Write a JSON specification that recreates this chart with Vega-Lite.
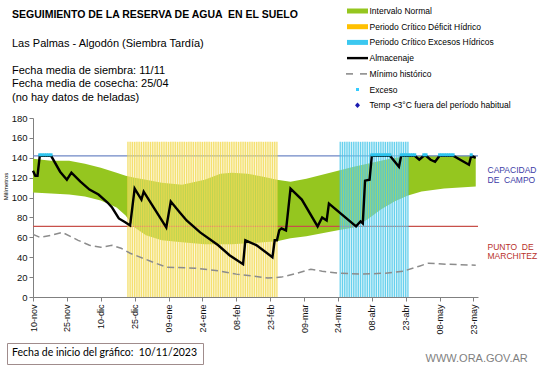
{
  "$schema": "https://vega.github.io/schema/vega-lite/v6.json",
  "width": 445,
  "height": 179,
  "autosize": {"type": "none"},
  "padding": {"left": 33, "top": 118, "right": 63, "bottom": 71},
  "background": "white",
  "title": {
    "text": "SEGUIMIENTO DE LA RESERVA DE AGUA \u00a0EN EL SUELO",
    "subtitle": ["Las Palmas - Algodón (Siembra Tardía)", "\u200b", "Fecha media de siembra: 11/11", "Fecha media de cosecha: 25/04", "(no hay datos de heladas)"],
    "anchor": "start",
    "frame": "group",
    "dx": -21,
    "dy": 104.5,
    "offset": 8,
    "font": "Liberation Sans",
    "fontSize": 10.5,
    "fontWeight": "bold",
    "color": "#000000",
    "subtitleFont": "Liberation Sans",
    "subtitleFontSize": 11,
    "subtitleColor": "#000000",
    "subtitleLineHeight": 13.5,
    "subtitlePadding": 17.5
  },
  "datasets": {
    "normal": [
      {"fecha": "2023-11-10", "sup": 139, "inf": 105},
      {"fecha": "2023-11-18", "sup": 137, "inf": 104},
      {"fecha": "2023-11-26", "sup": 137, "inf": 103},
      {"fecha": "2023-12-03", "sup": 134, "inf": 101},
      {"fecha": "2023-12-10", "sup": 130, "inf": 97},
      {"fecha": "2023-12-17", "sup": 125, "inf": 90},
      {"fecha": "2023-12-21", "sup": 122, "inf": 82},
      {"fecha": "2023-12-25", "sup": 120, "inf": 70},
      {"fecha": "2023-12-30", "sup": 118, "inf": 62},
      {"fecha": "2024-01-06", "sup": 115, "inf": 57},
      {"fecha": "2024-01-15", "sup": 113, "inf": 55},
      {"fecha": "2024-01-25", "sup": 118, "inf": 53},
      {"fecha": "2024-02-01", "sup": 124, "inf": 53},
      {"fecha": "2024-02-06", "sup": 125, "inf": 53},
      {"fecha": "2024-02-13", "sup": 124, "inf": 54},
      {"fecha": "2024-02-20", "sup": 121, "inf": 55},
      {"fecha": "2024-02-26", "sup": 118, "inf": 56},
      {"fecha": "2024-03-03", "sup": 116, "inf": 59},
      {"fecha": "2024-03-10", "sup": 119, "inf": 61},
      {"fecha": "2024-03-17", "sup": 123, "inf": 64},
      {"fecha": "2024-03-24", "sup": 127, "inf": 67},
      {"fecha": "2024-03-31", "sup": 131, "inf": 70},
      {"fecha": "2024-04-06", "sup": 134, "inf": 78},
      {"fecha": "2024-04-12", "sup": 137, "inf": 88},
      {"fecha": "2024-04-18", "sup": 140, "inf": 96},
      {"fecha": "2024-04-24", "sup": 141, "inf": 102},
      {"fecha": "2024-04-30", "sup": 142, "inf": 106},
      {"fecha": "2024-05-10", "sup": 142, "inf": 109},
      {"fecha": "2024-05-24", "sup": 142, "inf": 111}
    ],
    "umbrales": [
      {"tipo": "capacidad", "nivel": 142},
      {"tipo": "marchitez", "nivel": 71}
    ],
    "periodos": [
      {"inicio": "2023-12-22", "fin": "2024-02-26", "periodo": "deficit", "valor": 156},
      {"inicio": "2024-03-25", "fin": "2024-04-24", "periodo": "exceso", "valor": 156}
    ],
    "franjas": [
      {"fecha": "2023-12-22", "periodo": "deficit", "valor": 156},
      {"fecha": "2023-12-23", "periodo": "deficit", "valor": 156},
      {"fecha": "2023-12-24", "periodo": "deficit", "valor": 156},
      {"fecha": "2023-12-25", "periodo": "deficit", "valor": 156},
      {"fecha": "2023-12-26", "periodo": "deficit", "valor": 156},
      {"fecha": "2023-12-27", "periodo": "deficit", "valor": 156},
      {"fecha": "2023-12-28", "periodo": "deficit", "valor": 156},
      {"fecha": "2023-12-29", "periodo": "deficit", "valor": 156},
      {"fecha": "2023-12-30", "periodo": "deficit", "valor": 156},
      {"fecha": "2023-12-31", "periodo": "deficit", "valor": 156},
      {"fecha": "2024-01-01", "periodo": "deficit", "valor": 156},
      {"fecha": "2024-01-02", "periodo": "deficit", "valor": 156},
      {"fecha": "2024-01-03", "periodo": "deficit", "valor": 156},
      {"fecha": "2024-01-04", "periodo": "deficit", "valor": 156},
      {"fecha": "2024-01-05", "periodo": "deficit", "valor": 156},
      {"fecha": "2024-01-06", "periodo": "deficit", "valor": 156},
      {"fecha": "2024-01-07", "periodo": "deficit", "valor": 156},
      {"fecha": "2024-01-08", "periodo": "deficit", "valor": 156},
      {"fecha": "2024-01-09", "periodo": "deficit", "valor": 156},
      {"fecha": "2024-01-10", "periodo": "deficit", "valor": 156},
      {"fecha": "2024-01-11", "periodo": "deficit", "valor": 156},
      {"fecha": "2024-01-12", "periodo": "deficit", "valor": 156},
      {"fecha": "2024-01-13", "periodo": "deficit", "valor": 156},
      {"fecha": "2024-01-14", "periodo": "deficit", "valor": 156},
      {"fecha": "2024-01-15", "periodo": "deficit", "valor": 156},
      {"fecha": "2024-01-16", "periodo": "deficit", "valor": 156},
      {"fecha": "2024-01-17", "periodo": "deficit", "valor": 156},
      {"fecha": "2024-01-18", "periodo": "deficit", "valor": 156},
      {"fecha": "2024-01-19", "periodo": "deficit", "valor": 156},
      {"fecha": "2024-01-20", "periodo": "deficit", "valor": 156},
      {"fecha": "2024-01-21", "periodo": "deficit", "valor": 156},
      {"fecha": "2024-01-22", "periodo": "deficit", "valor": 156},
      {"fecha": "2024-01-23", "periodo": "deficit", "valor": 156},
      {"fecha": "2024-01-24", "periodo": "deficit", "valor": 156},
      {"fecha": "2024-01-25", "periodo": "deficit", "valor": 156},
      {"fecha": "2024-01-26", "periodo": "deficit", "valor": 156},
      {"fecha": "2024-01-27", "periodo": "deficit", "valor": 156},
      {"fecha": "2024-01-28", "periodo": "deficit", "valor": 156},
      {"fecha": "2024-01-29", "periodo": "deficit", "valor": 156},
      {"fecha": "2024-01-30", "periodo": "deficit", "valor": 156},
      {"fecha": "2024-01-31", "periodo": "deficit", "valor": 156},
      {"fecha": "2024-02-01", "periodo": "deficit", "valor": 156},
      {"fecha": "2024-02-02", "periodo": "deficit", "valor": 156},
      {"fecha": "2024-02-03", "periodo": "deficit", "valor": 156},
      {"fecha": "2024-02-04", "periodo": "deficit", "valor": 156},
      {"fecha": "2024-02-05", "periodo": "deficit", "valor": 156},
      {"fecha": "2024-02-06", "periodo": "deficit", "valor": 156},
      {"fecha": "2024-02-07", "periodo": "deficit", "valor": 156},
      {"fecha": "2024-02-08", "periodo": "deficit", "valor": 156},
      {"fecha": "2024-02-09", "periodo": "deficit", "valor": 156},
      {"fecha": "2024-02-10", "periodo": "deficit", "valor": 156},
      {"fecha": "2024-02-11", "periodo": "deficit", "valor": 156},
      {"fecha": "2024-02-12", "periodo": "deficit", "valor": 156},
      {"fecha": "2024-02-13", "periodo": "deficit", "valor": 156},
      {"fecha": "2024-02-14", "periodo": "deficit", "valor": 156},
      {"fecha": "2024-02-15", "periodo": "deficit", "valor": 156},
      {"fecha": "2024-02-16", "periodo": "deficit", "valor": 156},
      {"fecha": "2024-02-17", "periodo": "deficit", "valor": 156},
      {"fecha": "2024-02-18", "periodo": "deficit", "valor": 156},
      {"fecha": "2024-02-19", "periodo": "deficit", "valor": 156},
      {"fecha": "2024-02-20", "periodo": "deficit", "valor": 156},
      {"fecha": "2024-02-21", "periodo": "deficit", "valor": 156},
      {"fecha": "2024-02-22", "periodo": "deficit", "valor": 156},
      {"fecha": "2024-02-23", "periodo": "deficit", "valor": 156},
      {"fecha": "2024-02-24", "periodo": "deficit", "valor": 156},
      {"fecha": "2024-02-25", "periodo": "deficit", "valor": 156},
      {"fecha": "2024-02-26", "periodo": "deficit", "valor": 156},
      {"fecha": "2024-03-25", "periodo": "exceso", "valor": 156},
      {"fecha": "2024-03-26", "periodo": "exceso", "valor": 156},
      {"fecha": "2024-03-27", "periodo": "exceso", "valor": 156},
      {"fecha": "2024-03-28", "periodo": "exceso", "valor": 156},
      {"fecha": "2024-03-29", "periodo": "exceso", "valor": 156},
      {"fecha": "2024-03-30", "periodo": "exceso", "valor": 156},
      {"fecha": "2024-03-31", "periodo": "exceso", "valor": 156},
      {"fecha": "2024-04-01", "periodo": "exceso", "valor": 156},
      {"fecha": "2024-04-02", "periodo": "exceso", "valor": 156},
      {"fecha": "2024-04-03", "periodo": "exceso", "valor": 156},
      {"fecha": "2024-04-04", "periodo": "exceso", "valor": 156},
      {"fecha": "2024-04-05", "periodo": "exceso", "valor": 156},
      {"fecha": "2024-04-06", "periodo": "exceso", "valor": 156},
      {"fecha": "2024-04-07", "periodo": "exceso", "valor": 156},
      {"fecha": "2024-04-08", "periodo": "exceso", "valor": 156},
      {"fecha": "2024-04-09", "periodo": "exceso", "valor": 156},
      {"fecha": "2024-04-10", "periodo": "exceso", "valor": 156},
      {"fecha": "2024-04-11", "periodo": "exceso", "valor": 156},
      {"fecha": "2024-04-12", "periodo": "exceso", "valor": 156},
      {"fecha": "2024-04-13", "periodo": "exceso", "valor": 156},
      {"fecha": "2024-04-14", "periodo": "exceso", "valor": 156},
      {"fecha": "2024-04-15", "periodo": "exceso", "valor": 156},
      {"fecha": "2024-04-16", "periodo": "exceso", "valor": 156},
      {"fecha": "2024-04-17", "periodo": "exceso", "valor": 156},
      {"fecha": "2024-04-18", "periodo": "exceso", "valor": 156},
      {"fecha": "2024-04-19", "periodo": "exceso", "valor": 156},
      {"fecha": "2024-04-20", "periodo": "exceso", "valor": 156},
      {"fecha": "2024-04-21", "periodo": "exceso", "valor": 156},
      {"fecha": "2024-04-22", "periodo": "exceso", "valor": 156},
      {"fecha": "2024-04-23", "periodo": "exceso", "valor": 156},
      {"fecha": "2024-04-24", "periodo": "exceso", "valor": 156}
    ],
    "minimo": [
      {"fecha": "2023-11-10", "valor": 63},
      {"fecha": "2023-11-13", "valor": 60},
      {"fecha": "2023-11-18", "valor": 62},
      {"fecha": "2023-11-23", "valor": 65},
      {"fecha": "2023-11-30", "valor": 57},
      {"fecha": "2023-12-05", "valor": 52},
      {"fecha": "2023-12-10", "valor": 50},
      {"fecha": "2023-12-15", "valor": 52},
      {"fecha": "2023-12-19", "valor": 49},
      {"fecha": "2023-12-23", "valor": 44},
      {"fecha": "2024-01-01", "valor": 36},
      {"fecha": "2024-01-08", "valor": 30},
      {"fecha": "2024-01-21", "valor": 29},
      {"fecha": "2024-02-01", "valor": 26},
      {"fecha": "2024-02-08", "valor": 23},
      {"fecha": "2024-02-16", "valor": 21},
      {"fecha": "2024-02-22", "valor": 19},
      {"fecha": "2024-02-28", "valor": 20},
      {"fecha": "2024-03-06", "valor": 24},
      {"fecha": "2024-03-12", "valor": 28},
      {"fecha": "2024-03-17", "valor": 26},
      {"fecha": "2024-03-24", "valor": 24},
      {"fecha": "2024-04-04", "valor": 23},
      {"fecha": "2024-04-14", "valor": 24},
      {"fecha": "2024-04-22", "valor": 26},
      {"fecha": "2024-04-29", "valor": 31},
      {"fecha": "2024-05-03", "valor": 34},
      {"fecha": "2024-05-11", "valor": 33},
      {"fecha": "2024-05-24", "valor": 32}
    ],
    "almacenaje": [
      {"fecha": "2023-11-10", "valor": 127},
      {"fecha": "2023-11-11", "valor": 122},
      {"fecha": "2023-11-12", "valor": 122},
      {"fecha": "2023-11-13", "valor": 142},
      {"fecha": "2023-11-18", "valor": 142},
      {"fecha": "2023-11-22", "valor": 126},
      {"fecha": "2023-11-25", "valor": 118},
      {"fecha": "2023-11-27", "valor": 125},
      {"fecha": "2023-12-01", "valor": 116},
      {"fecha": "2023-12-05", "valor": 108},
      {"fecha": "2023-12-09", "valor": 103},
      {"fecha": "2023-12-13", "valor": 95},
      {"fecha": "2023-12-15", "valor": 90},
      {"fecha": "2023-12-18", "valor": 79},
      {"fecha": "2023-12-21", "valor": 75},
      {"fecha": "2023-12-23", "valor": 72},
      {"fecha": "2023-12-25", "valor": 109},
      {"fecha": "2023-12-28", "valor": 98},
      {"fecha": "2023-12-29", "valor": 106},
      {"fecha": "2024-01-08", "valor": 70},
      {"fecha": "2024-01-10", "valor": 96},
      {"fecha": "2024-01-14", "valor": 85},
      {"fecha": "2024-01-17", "valor": 77},
      {"fecha": "2024-01-23", "valor": 65},
      {"fecha": "2024-01-31", "valor": 52},
      {"fecha": "2024-02-05", "valor": 42},
      {"fecha": "2024-02-11", "valor": 33},
      {"fecha": "2024-02-12", "valor": 57},
      {"fecha": "2024-02-17", "valor": 52},
      {"fecha": "2024-02-24", "valor": 40},
      {"fecha": "2024-02-25", "valor": 57},
      {"fecha": "2024-02-26", "valor": 57},
      {"fecha": "2024-02-27", "valor": 67},
      {"fecha": "2024-02-28", "valor": 69},
      {"fecha": "2024-03-01", "valor": 67},
      {"fecha": "2024-03-03", "valor": 109},
      {"fecha": "2024-03-08", "valor": 98},
      {"fecha": "2024-03-15", "valor": 71},
      {"fecha": "2024-03-17", "valor": 80},
      {"fecha": "2024-03-19", "valor": 77},
      {"fecha": "2024-03-20", "valor": 94},
      {"fecha": "2024-04-01", "valor": 71},
      {"fecha": "2024-04-03", "valor": 76},
      {"fecha": "2024-04-04", "valor": 74},
      {"fecha": "2024-04-05", "valor": 117},
      {"fecha": "2024-04-07", "valor": 118},
      {"fecha": "2024-04-08", "valor": 142},
      {"fecha": "2024-04-16", "valor": 142},
      {"fecha": "2024-04-20", "valor": 131},
      {"fecha": "2024-04-21", "valor": 142},
      {"fecha": "2024-04-27", "valor": 142},
      {"fecha": "2024-04-29", "valor": 138},
      {"fecha": "2024-05-01", "valor": 142},
      {"fecha": "2024-05-02", "valor": 142},
      {"fecha": "2024-05-04", "valor": 138},
      {"fecha": "2024-05-06", "valor": 136},
      {"fecha": "2024-05-08", "valor": 142},
      {"fecha": "2024-05-14", "valor": 142},
      {"fecha": "2024-05-21", "valor": 133},
      {"fecha": "2024-05-22", "valor": 142},
      {"fecha": "2024-05-24", "valor": 140}
    ],
    "exceso": [
      {"fecha": "2023-11-13", "valor": 143},
      {"fecha": "2023-11-14", "valor": 143},
      {"fecha": "2023-11-15", "valor": 143},
      {"fecha": "2023-11-16", "valor": 143},
      {"fecha": "2023-11-17", "valor": 143},
      {"fecha": "2023-11-18", "valor": 143},
      {"fecha": "2024-04-08", "valor": 143},
      {"fecha": "2024-04-09", "valor": 143},
      {"fecha": "2024-04-10", "valor": 143},
      {"fecha": "2024-04-11", "valor": 143},
      {"fecha": "2024-04-12", "valor": 143},
      {"fecha": "2024-04-13", "valor": 143},
      {"fecha": "2024-04-14", "valor": 143},
      {"fecha": "2024-04-15", "valor": 143},
      {"fecha": "2024-04-16", "valor": 143},
      {"fecha": "2024-04-21", "valor": 143},
      {"fecha": "2024-04-22", "valor": 143},
      {"fecha": "2024-04-23", "valor": 143},
      {"fecha": "2024-04-24", "valor": 143},
      {"fecha": "2024-04-25", "valor": 143},
      {"fecha": "2024-04-26", "valor": 143},
      {"fecha": "2024-04-27", "valor": 143},
      {"fecha": "2024-05-01", "valor": 143},
      {"fecha": "2024-05-02", "valor": 143},
      {"fecha": "2024-05-08", "valor": 143},
      {"fecha": "2024-05-09", "valor": 143},
      {"fecha": "2024-05-10", "valor": 143},
      {"fecha": "2024-05-11", "valor": 143},
      {"fecha": "2024-05-12", "valor": 143},
      {"fecha": "2024-05-13", "valor": 143},
      {"fecha": "2024-05-14", "valor": 143},
      {"fecha": "2024-05-22", "valor": 143}
    ],
    "series": [
      {"serie": "Intervalo Normal", "inicio": "10/11/2023"},
      {"serie": "Periodo Crítico Déficit Hídrico", "inicio": "10/11/2023"},
      {"serie": "Periodo Crítico Excesos Hídricos", "inicio": "10/11/2023"},
      {"serie": "Almacenaje", "inicio": "10/11/2023"},
      {"serie": "Mínimo histórico", "inicio": "10/11/2023"},
      {"serie": "Exceso", "inicio": "10/11/2023"},
      {"serie": "Temp <3°C fuera del período habitual", "inicio": "10/11/2023"}
    ]
  },
  "layer": [
    {
      "data": {"name": "normal"},
      "mark": {"type": "area", "color": "#95C61F", "opacity": 1},
      "encoding": {
        "x": {
          "field": "fecha", "type": "temporal",
          "scale": {"type": "utc", "domain": [{"year": 2023, "month": 11, "date": 10, "utc": true}, {"year": 2024, "month": 5, "date": 25, "utc": true}]},
          "axis": {
            "values": [
              {"year": 2023, "month": 11, "date": 10, "utc": true},
              {"year": 2023, "month": 11, "date": 25, "utc": true},
              {"year": 2023, "month": 12, "date": 10, "utc": true},
              {"year": 2023, "month": 12, "date": 25, "utc": true},
              {"year": 2024, "month": 1, "date": 9, "utc": true},
              {"year": 2024, "month": 1, "date": 24, "utc": true},
              {"year": 2024, "month": 2, "date": 8, "utc": true},
              {"year": 2024, "month": 2, "date": 23, "utc": true},
              {"year": 2024, "month": 3, "date": 9, "utc": true},
              {"year": 2024, "month": 3, "date": 24, "utc": true},
              {"year": 2024, "month": 4, "date": 8, "utc": true},
              {"year": 2024, "month": 4, "date": 23, "utc": true},
              {"year": 2024, "month": 5, "date": 8, "utc": true},
              {"year": 2024, "month": 5, "date": 23, "utc": true}
            ],
            "tickCount": 40,
            "labelExpr": "utcFormat(datum.value, '%d') + '-' + ['ene','feb','mar','abr','may','jun','jul','ago','sep','oct','nov','dic'][utcmonth(datum.value)]",
            "labelAngle": -90,
            "labelFontSize": 9,
            "labelPadding": 3,
            "labelOverlap": false,
            "tickSize": 4,
            "title": null
          }
        },
        "y": {
          "field": "sup", "type": "quantitative",
          "scale": {"domain": [0, 180], "nice": false, "zero": true},
          "axis": {
            "values": [0, 20, 40, 60, 80, 100, 120, 140, 160, 180],
            "tickCount": 20,
            "labelFontSize": 9.5,
            "labelPadding": 2,
            "tickSize": 4,
            "title": "Milímetros",
            "titleFont": "Liberation Sans",
            "titleFontSize": 6,
            "titleFontWeight": "normal",
            "titleColor": "#000000",
            "titleAngle": -90,
            "titleAlign": "center",
            "titleBaseline": "middle",
            "titleX": -28,
            "titleY": 68
          }
        },
        "y2": {"field": "inf"}
      }
    },
    {
      "data": {"name": "umbrales"},
      "mark": {"type": "rule", "strokeWidth": 1.3},
      "encoding": {
        "y": {
          "field": "nivel", "type": "quantitative",
          "scale": {"domain": [0, 180], "nice": false},
          "axis": {
            "orient": "right",
            "values": [128, 118, 51, 42],
            "tickCount": 20,
            "labelExpr": "datum.value == 128 ? 'CAPACIDAD' : datum.value == 118 ? 'DE\u00a0\u00a0CAMPO' : datum.value == 51 ? 'PUNTO\u00a0\u00a0DE' : 'MARCHITEZ'",
            "labelColor": {"condition": {"test": "datum.value > 100", "value": "#3B3BA6"}, "value": "#B8312B"},
            "labelFontSize": 8.5,
            "labelPadding": 9,
            "labelOverlap": false,
            "ticks": false,
            "domain": false,
            "title": "WWW.ORA.GOV.AR",
            "titleFont": "Liberation Sans",
            "titleFontSize": 11,
            "titleFontWeight": "normal",
            "titleColor": "#7F7F7F",
            "titleAngle": 0,
            "titleAlign": "left",
            "titleBaseline": "middle",
            "titleX": -53,
            "titleY": 240
          }
        },
        "color": {"condition": {"test": "datum.tipo == 'capacidad'", "value": "#6F87C6"}, "value": "#C8504A"}
      }
    },
    {
      "data": {"name": "periodos"},
      "mark": {"type": "rect", "opacity": 0.4},
      "encoding": {
        "x": {"field": "inicio", "type": "temporal"},
        "x2": {"field": "fin"},
        "y": {"field": "valor", "type": "quantitative", "axis": null},
        "y2": {"datum": 0},
        "color": {"condition": {"test": "datum.periodo == 'deficit'", "value": "#F8EBA0"}, "value": "#B8EAF6"}
      }
    },
    {
      "data": {"name": "franjas"},
      "mark": {"type": "rule", "strokeWidth": 1.3, "opacity": 0.75},
      "encoding": {
        "x": {"field": "fecha", "type": "temporal"},
        "y": {"field": "valor", "type": "quantitative", "axis": null},
        "y2": {"datum": 0},
        "color": {"condition": {"test": "datum.periodo == 'deficit'", "value": "#F2D84C"}, "value": "#3EC3E8"}
      }
    },
    {
      "data": {"name": "minimo"},
      "mark": {"type": "line", "color": "#8C8C8C", "strokeWidth": 1.5, "strokeDash": [7, 4]},
      "encoding": {
        "x": {"field": "fecha", "type": "temporal"},
        "y": {"field": "valor", "type": "quantitative", "axis": null}
      }
    },
    {
      "data": {"name": "almacenaje"},
      "mark": {"type": "line", "color": "#000000", "strokeWidth": 2.4},
      "encoding": {
        "x": {"field": "fecha", "type": "temporal"},
        "y": {"field": "valor", "type": "quantitative", "axis": null}
      }
    },
    {
      "data": {"name": "exceso"},
      "mark": {"type": "point", "shape": "square", "filled": true, "size": 9, "color": "#2FC4EE", "opacity": 1},
      "encoding": {
        "x": {"field": "fecha", "type": "temporal"},
        "y": {"field": "valor", "type": "quantitative", "axis": null}
      }
    },
    {
      "data": {"name": "series"},
      "transform": [{"filter": "false"}],
      "mark": {"type": "point", "filled": true, "opacity": 1},
      "encoding": {
        "color": {
          "field": "serie", "type": "nominal", "title": null,
          "scale": {
            "domain": ["Intervalo Normal", "Periodo Crítico Déficit Hídrico", "Periodo Crítico Excesos Hídricos", "Almacenaje", "Mínimo histórico", "Exceso", "Temp <3°C fuera del período habitual"],
            "range": ["#95C61F", "#FFC000", "#3CC8F0", "#000000", "#969696", "#33CCFF", "#1A1AB0"]
          }
        },
        "shape": {
          "field": "serie", "type": "nominal", "title": null,
          "scale": {
            "domain": ["Intervalo Normal", "Periodo Crítico Déficit Hídrico", "Periodo Crítico Excesos Hídricos", "Almacenaje", "Mínimo histórico", "Exceso", "Temp <3°C fuera del período habitual"],
            "range": [
              "M-2.1,-0.5H2.1V0.5H-2.1Z",
              "M-2.1,-0.5H2.1V0.5H-2.1Z",
              "M-2.1,-0.5H2.1V0.5H-2.1Z",
              "M-2.1,-0.24H2.1V0.24H-2.1Z",
              "M-2.3,-0.18H-0.9V0.18H-2.3Z M0.5,-0.18H1.9V0.18H0.5Z",
              "M-0.3,-0.3H0.3V0.3H-0.3Z",
              "M0,-0.55L0.5,0L0,0.55L-0.5,0Z"
            ]
          }
        },
        "strokeDash": {
          "field": "inicio", "type": "nominal",
          "scale": {"domain": ["10/11/2023"], "range": [[1, 0]]},
          "legend": {
            "title": "Fecha de inicio del gráfico:\u00a0\u00a010/11/2023",
            "orient": "none",
            "legendX": -26,
            "legendY": 225,
            "padding": 5,
            "strokeColor": "#A08C8C",
            "fillColor": "#FFFFFF",
            "titleFont": "Lato",
            "titleFontSize": 10.5,
            "titleFontWeight": "normal",
            "titleColor": "#000000",
            "titlePadding": 0,
            "titleLimit": 300,
            "labelExpr": "''",
            "labelFontSize": 1,
            "labelOffset": 0,
            "symbolSize": 0,
            "symbolOpacity": 0,
            "symbolStrokeWidth": 0,
            "rowPadding": 0
          }
        }
      }
    }
  ],
  "resolve": {"axis": {"y": "independent"}},
  "config": {
    "view": {"stroke": null},
    "font": "Liberation Sans",
    "axis": {
      "domainColor": "#808080",
      "tickColor": "#808080",
      "labelColor": "#111111",
      "labelFont": "Liberation Sans",
      "grid": false
    },
    "legend": {
      "orient": "none",
      "legendX": 319.5,
      "legendY": -112,
      "padding": 0,
      "symbolSize": 100,
      "symbolStrokeWidth": 0,
      "symbolOpacity": 1,
      "labelFont": "Liberation Sans",
      "labelFontSize": 8.5,
      "labelColor": "#000000",
      "labelOffset": 7,
      "rowPadding": 5.7,
      "labelLimit": 250
    }
  }
}
